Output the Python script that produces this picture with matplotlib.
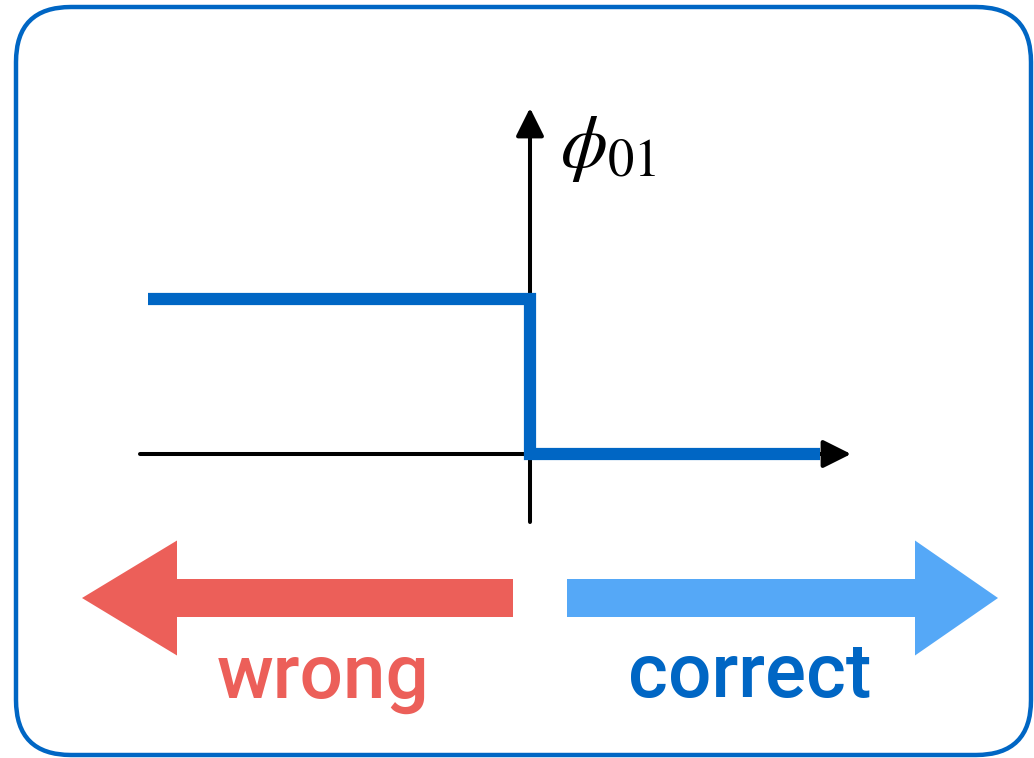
import matplotlib
matplotlib.use("Agg")
import matplotlib.pyplot as plt
import matplotlib.patches as mpatches

# step function phi_01 (data units: step height 1, x origin at the jump)
phi_x = [-1.0, 0.0, 0.0, 0.76]
phi_y = [1.0, 1.0, 0.0, 0.0]
axis_label = r"$\phi_{01}$"
left_label = "wrong"
right_label = "correct"

dark_blue = "#0066C4"
light_blue = "#55A8F7"
red = "#EC5F59"

W, H = 1034, 758
fig = plt.figure(figsize=(W / 100, H / 100), dpi=100)

# background layer in pixel coords
bg = fig.add_axes([0, 0, 1, 1])
bg.set_xlim(0, W)
bg.set_ylim(H, 0)
bg.axis("off")

frame = mpatches.FancyBboxPatch((16, 7), 1015, 748,
                                boxstyle="round,pad=0,rounding_size=55",
                                fill=False, ec=dark_blue, lw=3.2)
bg.add_patch(frame)

# big direction arrows
bg.add_patch(mpatches.FancyArrow(513, 598, -431, 0, width=38, head_width=115,
                                 head_length=95, length_includes_head=True,
                                 color=red, lw=0))
bg.add_patch(mpatches.FancyArrow(567, 598, 431, 0, width=38, head_width=115,
                                 head_length=83, length_includes_head=True,
                                 color=light_blue, lw=0))

bg.text(323, 698, left_label, color=red, fontsize=55, fontfamily="Roboto",
        fontweight="medium", ha="center", va="baseline")
bg.text(750, 697, right_label, color=dark_blue, fontsize=55,
        fontfamily="Roboto", fontweight="medium", ha="center", va="baseline")

plt.rcParams["mathtext.fontset"] = "stix"
bg.text(560, 148, axis_label, fontsize=54, ha="left", va="center")

# chart axes: origin at pixel (530, 454), 382 px per x unit, 155 px per y unit
px0, px1, py0, py1 = 140, 851, 108, 522
ax = fig.add_axes([px0 / W, (H - py1) / H, (px1 - px0) / W, (py1 - py0) / H])
ax.set_xlim((px0 - 530) / 382, (px1 - 530) / 382)
ax.set_ylim((454 - py1) / 155, (454 - py0) / 155)
ax.axis("off")
ax.patch.set_alpha(0)

arrow_kw = dict(arrowstyle="-|>,head_length=0.4,head_width=0.2",
                mutation_scale=43, lw=2.9, color="black",
                shrinkA=0, shrinkB=0)
xl, xr = ax.get_xlim()
yb, yt = ax.get_ylim()
ax.annotate("", xy=(xr, 0), xytext=(xl, 0), arrowprops=arrow_kw)
ax.annotate("", xy=(0, yt), xytext=(0, yb), arrowprops=arrow_kw)

ax.plot(phi_x, phi_y, color=dark_blue, lw=8.8, solid_joinstyle="miter",
        solid_capstyle="butt", zorder=3)

fig.savefig("out.png", dpi=100)
